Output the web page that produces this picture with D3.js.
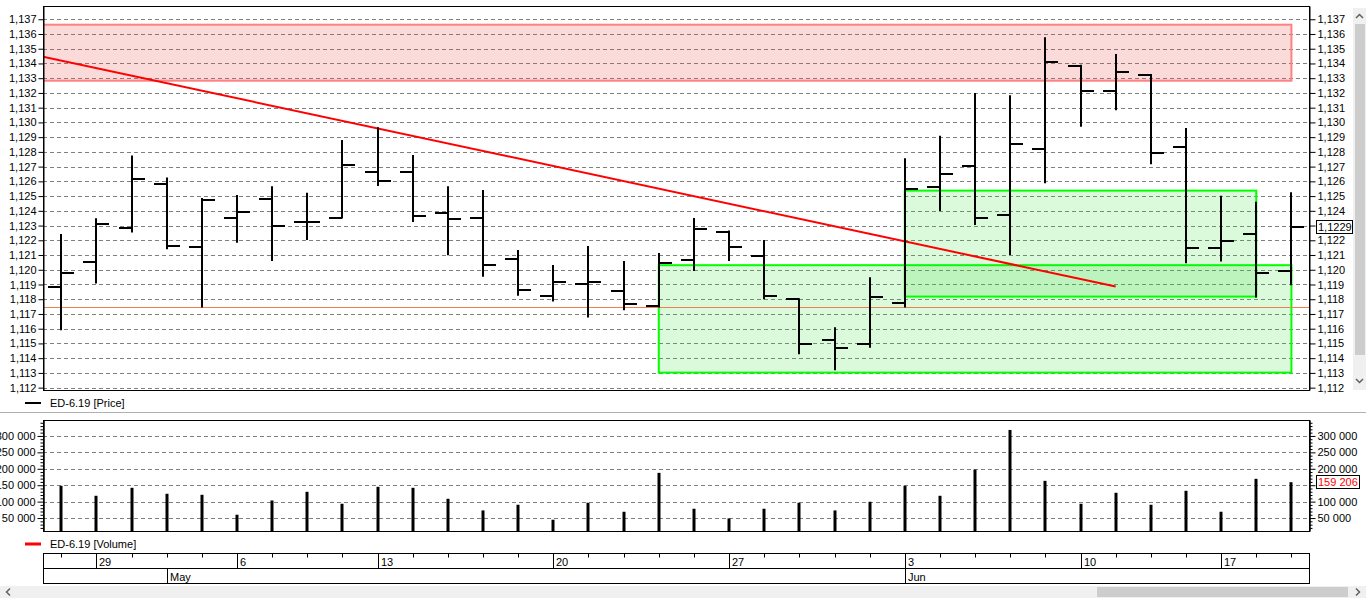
<!DOCTYPE html>
<html>
<head>
<meta charset="utf-8">
<script src="https://cdn.jsdelivr.net/npm/d3@7"></script>
<style>
  body { margin: 0; background: #fff; overflow: hidden; }
  svg { display: block; font-family: 'Liberation Sans', Arial, sans-serif; font-size: 11px; }
</style>
</head>
<body>
<svg width="1366" height="598"></svg>
<script>
/* Trading days (Russian calendar, holidays skipped) */
let dates = ['2019-04-26', '2019-04-29', '2019-04-30', '2019-05-02', '2019-05-03', '2019-05-06',
  '2019-05-07', '2019-05-08', '2019-05-10', '2019-05-13', '2019-05-14', '2019-05-15',
  '2019-05-16', '2019-05-17', '2019-05-20', '2019-05-21', '2019-05-22', '2019-05-23',
  '2019-05-24', '2019-05-27', '2019-05-28', '2019-05-29', '2019-05-30', '2019-05-31',
  '2019-06-03', '2019-06-04', '2019-06-05', '2019-06-06', '2019-06-07', '2019-06-10',
  '2019-06-11', '2019-06-13', '2019-06-14', '2019-06-17', '2019-06-18', '2019-06-19']

let opens = [1.11883, 1.12051, 1.12286, 1.12584, 1.12155, 1.12354, 1.12480, 1.12325, 1.12354,
  1.12666, 1.12666, 1.12388, 1.12354, 1.12074, 1.11822, 1.11906, 1.11858, 1.11757, 1.12067,
  1.12259, 1.12096, 1.11800, 1.11524, 1.11497, 1.11777, 1.12564, 1.12707, 1.12372, 1.12820,
  1.13385, 1.13216, 1.13322, 1.12836, 1.12150, 1.12241, 1.11992]
let highs = [1.12236, 1.12343, 1.12768, 1.12620, 1.12480, 1.12500, 1.12560, 1.12515, 1.12874,
  1.12960, 1.12772, 1.12560, 1.12535, 1.12128, 1.12026, 1.12155, 1.12053, 1.12107, 1.12345,
  1.12259, 1.12196, 1.11800, 1.11603, 1.11943, 1.12750, 1.12903, 1.13193, 1.13178, 1.13571,
  1.13385, 1.13458, 1.13322, 1.12956, 1.12496, 1.12455, 1.12519]
let lows = [1.11596, 1.11913, 1.12259, 1.12146, 1.11750, 1.12190, 1.12067, 1.12209, 1.12354,
  1.12576, 1.12331, 1.12105, 1.11960, 1.11831, 1.11791, 1.11682, 1.11732, 1.11750, 1.11999,
  1.12067, 1.11807, 1.11434, 1.11325, 1.11478, 1.11750, 1.12406, 1.12311, 1.12107, 1.12594,
  1.12978, 1.13089, 1.12723, 1.12051, 1.12062, 1.11818, 1.11902]
let closes = [1.11980, 1.12311, 1.12616, 1.12164, 1.12474, 1.12392, 1.12300, 1.12325, 1.12713,
  1.12603, 1.12367, 1.12345, 1.12035, 1.11863, 1.11920, 1.11920, 1.11768, 1.12048, 1.12277,
  1.12157, 1.11822, 1.11497, 1.11472, 1.11818, 1.12546, 1.12652, 1.12354, 1.12854, 1.13412,
  1.13216, 1.13344, 1.12795, 1.12150, 1.12198, 1.11980, 1.12290]
let volumes = [148200, 117800, 142100, 123900, 120800, 60100, 103500, 129900, 93500, 145100,
  142100, 108700, 73200, 90500, 44900, 96500, 69200, 187600, 78300, 48900, 78300, 96500,
  73200, 99600, 148200, 117800, 197600, 318200, 163300, 93500, 126900, 90500, 133000,
  69200, 169400, 159206]

let priceTicks = [1.112, 1.113, 1.114, 1.115, 1.116, 1.117, 1.118, 1.119, 1.120, 1.121, 1.122,
  1.123, 1.124, 1.125, 1.126, 1.127, 1.128, 1.129, 1.130, 1.131, 1.132, 1.133, 1.134, 1.135,
  1.136, 1.137]
let volumeTicks = [50000, 100000, 150000, 200000, 250000, 300000]
let volumeMinorTicks = [20000, 30000, 40000, 60000, 70000, 80000, 90000, 110000, 120000, 130000,
  140000, 160000, 170000, 180000, 190000, 210000, 220000, 230000, 240000, 260000, 270000,
  280000, 290000, 310000, 320000, 330000, 340000]
let lastPrice = 1.1229
let lastVolume = 159206

/* Drawn objects (bar index / price) */
let redZones = [{ from: -3, to: 35, low: 1.13283, high: 1.13663 }]
let greenZones = [{ from: 17, to: 35, low: 1.11302, high: 1.12031 },
  { from: 24, to: 34, low: 1.11818, high: 1.12537 }]
let trendLine = [{ i: -0.52, p: 1.13446 }, { i: 30, p: 1.11886 }]
let levelLine = 1.11746

let data = dates.map((d, i) => ({
  i: i,
  date: d3.timeParse('%Y-%m-%d')(d),
  open: opens[i], high: highs[i], low: lows[i], close: closes[i], volume: volumes[i]
}))

let svg = d3.select('svg')
let plotLeft = 43
let plotRight = 1309
let priceTop = 6
let priceBottom = 390
let volTop = 420
let volBottom = 531

let locale = d3.formatLocale({ decimal: ',', thousands: ' ', grouping: [3], currency: ['', ''] })
let priceFormat = locale.format('.3f')
let volFormat = locale.format(',d')

let x = d3.scaleLinear().domain([-0.52, 35.5]).range([plotLeft, plotRight])
let y = d3.scaleLinear().domain([1.11184, 1.1379]).range([priceBottom, priceTop])
let yVol = d3.scaleLinear().domain([10600, 348500]).range([volBottom, volTop])

let px = v => Math.round(v) + 0.5

svg.append('defs').append('clipPath').attr('id', 'priceClip')
  .append('rect')
    .attr('x', plotLeft).attr('y', priceTop)
    .attr('width', plotRight - plotLeft).attr('height', priceBottom - priceTop)

/* Price gridlines */
svg.append('g')
  .selectAll('line')
  .data(priceTicks)
  .join('line')
    .attr('x1', plotLeft).attr('x2', plotRight)
    .attr('y1', d => px(y(d))).attr('y2', d => px(y(d)))
    .attr('stroke', '#808080')
    .attr('stroke-dasharray', '4,3')

let overlay = svg.append('g').attr('clip-path', 'url(#priceClip)')

/* Resistance zone */
overlay.selectAll('rect.red')
  .data(redZones)
  .join('rect')
    .attr('class', 'red')
    .attr('x', d => x(d.from))
    .attr('y', d => y(d.high))
    .attr('width', d => x(d.to) - x(d.from))
    .attr('height', d => y(d.low) - y(d.high))
    .attr('fill', 'rgba(235, 70, 70, 0.2)')
    .attr('stroke', '#ff8080')
    .attr('stroke-width', 2)

/* Support zones */
overlay.selectAll('rect.green')
  .data(greenZones)
  .join('rect')
    .attr('class', 'green')
    .attr('x', d => x(d.from))
    .attr('y', d => y(d.high))
    .attr('width', d => x(d.to) - x(d.from))
    .attr('height', d => y(d.low) - y(d.high))
    .attr('fill', 'rgba(40, 220, 40, 0.17)')
    .attr('stroke', '#00ff00')
    .attr('stroke-width', 2)

/* Horizontal level */
overlay.append('line')
  .attr('x1', plotLeft).attr('x2', plotRight)
  .attr('y1', px(y(levelLine))).attr('y2', px(y(levelLine)))
  .attr('stroke', '#f08050')

/* Trend line */
overlay.append('path')
  .datum(trendLine)
  .attr('d', d3.line().x(d => x(d.i)).y(d => y(d.p)))
  .attr('stroke', '#ff0000')
  .attr('stroke-width', 2)
  .attr('fill', 'none')

/* OHLC bars */
let bars = svg.append('g')
  .attr('stroke', '#000')
  .attr('stroke-width', 2)
  .selectAll('g')
  .data(data)
  .join('g')

bars.append('line')
  .attr('x1', d => Math.round(x(d.i))).attr('x2', d => Math.round(x(d.i)))
  .attr('y1', d => y(d.high) - 1).attr('y2', d => y(d.low) + 1)
bars.append('line')
  .attr('x1', d => Math.round(x(d.i)) - 13).attr('x2', d => Math.round(x(d.i)))
  .attr('y1', d => Math.round(y(d.open))).attr('y2', d => Math.round(y(d.open)))
bars.append('line')
  .attr('x1', d => Math.round(x(d.i))).attr('x2', d => Math.round(x(d.i)) + 13)
  .attr('y1', d => Math.round(y(d.close))).attr('y2', d => Math.round(y(d.close)))

/* Price axes */
svg.append('g')
  .attr('transform', `translate(${plotLeft + 0.5}, 0)`)
  .call(d3.axisLeft(y).tickValues(priceTicks).tickFormat(priceFormat).tickSize(5).tickPadding(2).tickSizeOuter(0))
let rightPriceAxis = svg.append('g')
  .attr('transform', `translate(${plotRight + 0.5}, 0)`)
  .call(d3.axisRight(y).tickValues(priceTicks).tickFormat(priceFormat).tickSize(6).tickPadding(2).tickSizeOuter(0))

/* the last-value box covers the nearest tick label */
rightPriceAxis.selectAll('.tick')
  .filter(d => Math.abs(y(d) - y(lastPrice)) < 10)
  .select('text').remove()

/* Price pane frame */
svg.append('rect')
  .attr('x', plotLeft + 0.5).attr('y', priceTop + 0.5)
  .attr('width', plotRight - plotLeft).attr('height', priceBottom - priceTop)
  .attr('fill', 'none').attr('stroke', '#000')

/* Last price box */
let lastY = y(lastPrice)
svg.append('rect')
  .attr('x', plotRight + 7.5).attr('y', Math.round(lastY) - 6.5)
  .attr('width', 36).attr('height', 13)
  .attr('fill', '#fff').attr('stroke', '#000')
svg.append('text')
  .attr('x', plotRight + 9).attr('y', lastY).attr('dy', '0.36em')
  .text(locale.format('.4f')(lastPrice))

/* Price legend */
svg.append('line')
  .attr('x1', 25).attr('x2', 41).attr('y1', 403).attr('y2', 403)
  .attr('stroke', '#000').attr('stroke-width', 2)
svg.append('text')
  .attr('x', 50).attr('y', 403).attr('dy', '0.36em')
  .text('ED-6.19 [Price]')

/* Pane splitter */
svg.append('line')
  .attr('x1', 0).attr('x2', 1366).attr('y1', 412.5).attr('y2', 412.5)
  .attr('stroke', '#b0b0b0')

/* Volume gridlines */
svg.append('g')
  .selectAll('line')
  .data(volumeTicks)
  .join('line')
    .attr('x1', plotLeft).attr('x2', plotRight)
    .attr('y1', d => px(yVol(d))).attr('y2', d => px(yVol(d)))
    .attr('stroke', '#808080')
    .attr('stroke-dasharray', '4,3')

/* Volume bars */
svg.append('g')
  .selectAll('rect')
  .data(data)
  .join('rect')
    .attr('x', d => Math.round(x(d.i)) - 1.5)
    .attr('y', d => yVol(d.volume))
    .attr('width', 3)
    .attr('height', d => volBottom - yVol(d.volume))
    .attr('fill', '#000')

/* Volume axes, minor then major */
svg.append('g')
  .attr('transform', `translate(${plotLeft + 0.5}, 0)`)
  .call(d3.axisLeft(yVol).tickValues(volumeMinorTicks).tickFormat('').tickSize(3).tickSizeOuter(0))
svg.append('g')
  .attr('transform', `translate(${plotLeft + 0.5}, 0)`)
  .call(d3.axisLeft(yVol).tickValues(volumeTicks).tickFormat(volFormat).tickSize(6).tickPadding(2).tickSizeOuter(0))
svg.append('g')
  .attr('transform', `translate(${plotRight + 0.5}, 0)`)
  .call(d3.axisRight(yVol).tickValues(volumeMinorTicks).tickFormat('').tickSize(3).tickSizeOuter(0))
let rightVolAxis = svg.append('g')
  .attr('transform', `translate(${plotRight + 0.5}, 0)`)
  .call(d3.axisRight(yVol).tickValues(volumeTicks).tickFormat(volFormat).tickSize(6).tickPadding(2).tickSizeOuter(0))

rightVolAxis.selectAll('.tick')
  .filter(d => Math.abs(yVol(d) - yVol(lastVolume)) < 10)
  .select('text').remove()

svg.append('rect')
  .attr('x', plotLeft + 0.5).attr('y', volTop + 0.5)
  .attr('width', plotRight - plotLeft).attr('height', volBottom - volTop)
  .attr('fill', 'none').attr('stroke', '#000')

/* Last volume box */
let lastVY = yVol(lastVolume)
svg.append('rect')
  .attr('x', plotRight + 7.5).attr('y', Math.round(lastVY) - 6.5)
  .attr('width', 43).attr('height', 13)
  .attr('fill', '#fff').attr('stroke', '#000')
svg.append('text')
  .attr('x', plotRight + 9).attr('y', lastVY).attr('dy', '0.36em')
  .attr('fill', '#ff0000')
  .text(volFormat(lastVolume))

/* Volume legend */
svg.append('line')
  .attr('x1', 25).attr('x2', 41).attr('y1', 544).attr('y2', 544)
  .attr('stroke', '#ff0000').attr('stroke-width', 3)
svg.append('text')
  .attr('x', 50).attr('y', 544).attr('dy', '0.36em')
  .text('ED-6.19 [Volume]')

/* Date axis */
let dateTop = 553.5
let dateMid = 568.5
let dateBottom = 583.5
let dateAxis = svg.append('g')
dateAxis.append('rect')
  .attr('x', plotLeft + 0.5).attr('y', dateTop)
  .attr('width', plotRight - plotLeft).attr('height', dateBottom - dateTop)
  .attr('fill', 'none').attr('stroke', '#000')
dateAxis.append('line')
  .attr('x1', plotLeft).attr('x2', plotRight).attr('y1', dateMid).attr('y2', dateMid)
  .attr('stroke', '#000')

let weekStarts = data.filter((d, i) => i > 0 && d.date.getDay() < data[i - 1].date.getDay())
let monthStarts = data.filter((d, i) => i > 0 && d.date.getMonth() !== data[i - 1].date.getMonth())

dateAxis.selectAll('line.day')
  .data(data)
  .join('line')
    .attr('class', 'day')
    .attr('x1', d => px(x(d.i))).attr('x2', d => px(x(d.i)))
    .attr('y1', dateTop).attr('y2', dateTop + 4)
    .attr('stroke', '#000')
dateAxis.selectAll('line.week')
  .data(weekStarts)
  .join('line')
    .attr('class', 'week')
    .attr('x1', d => px(x(d.i))).attr('x2', d => px(x(d.i)))
    .attr('y1', dateTop).attr('y2', dateMid)
    .attr('stroke', '#000')
dateAxis.selectAll('text.week')
  .data(weekStarts)
  .join('text')
    .attr('class', 'week')
    .attr('x', d => Math.round(x(d.i)) + 3)
    .attr('y', (dateTop + dateMid) / 2 + 1)
    .attr('dy', '0.36em')
    .text(d => d3.timeFormat('%-d')(d.date))
dateAxis.selectAll('line.month')
  .data(monthStarts)
  .join('line')
    .attr('class', 'month')
    .attr('x1', d => px(x(d.i))).attr('x2', d => px(x(d.i)))
    .attr('y1', dateMid).attr('y2', dateBottom)
    .attr('stroke', '#000')
dateAxis.selectAll('text.month')
  .data(monthStarts)
  .join('text')
    .attr('class', 'month')
    .attr('x', d => Math.round(x(d.i)) + 3)
    .attr('y', (dateMid + dateBottom) / 2 + 1)
    .attr('dy', '0.36em')
    .text(d => d3.timeFormat('%b')(d.date))

/* Scrollbars */
svg.append('rect').attr('x', 1353).attr('y', 8).attr('width', 13).attr('height', 382).attr('fill', '#f0f0f0')
svg.append('rect').attr('x', 1355).attr('y', 24).attr('width', 10).attr('height', 331).attr('fill', '#cdcdcd')
svg.append('path').attr('d', 'M1356,18 L1359.5,14.5 L1363,18').attr('fill', 'none').attr('stroke', '#606060').attr('stroke-width', 1.5)
svg.append('path').attr('d', 'M1356,379 L1359.5,382.5 L1363,379').attr('fill', 'none').attr('stroke', '#606060').attr('stroke-width', 1.5)
svg.append('rect').attr('x', 0).attr('y', 586).attr('width', 1366).attr('height', 12).attr('fill', '#f0f0f0')
svg.append('rect').attr('x', 1097).attr('y', 587).attr('width', 251).attr('height', 10).attr('fill', '#cdcdcd')
svg.append('path').attr('d', 'M10,588.5 L6.5,592 L10,595.5').attr('fill', 'none').attr('stroke', '#606060').attr('stroke-width', 1.5)
svg.append('path').attr('d', 'M1356,588.5 L1359.5,592 L1356,595.5').attr('fill', 'none').attr('stroke', '#606060').attr('stroke-width', 1.5)

svg.selectAll('.tick text').attr('fill', '#000').style('font-size', '11px').style('font-family', "'Liberation Sans', Arial, sans-serif")
svg.selectAll('.domain').attr('stroke', '#000')
</script>
</body>
</html>
